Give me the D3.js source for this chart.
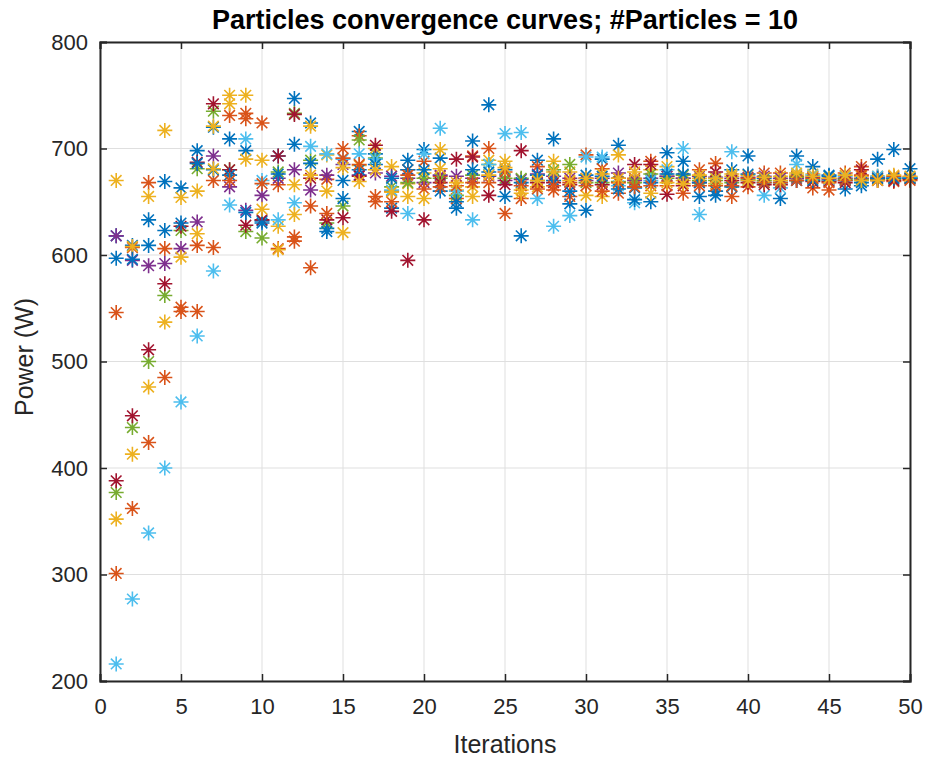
<!DOCTYPE html>
<html><head><meta charset="utf-8">
<script src="https://cdn.jsdelivr.net/npm/d3@7"></script>
<style>body{margin:0;background:#fff}svg{display:block}</style>
</head><body><svg id="c" width="928" height="761"></svg>
<script>
// Iteration values (1..50) for each of the 10 particles
const iterations = d3.range(1, 51);
const p1  = [618,609,633,669,663,698,720,709,698,632,693,747,724,625,670,716,695,644,689,699,691,644,707,741,680,618,689,709,648,642,690,703,663,650,696,688,655,656,680,693,672,653,693,683,675,662,665,690,699,681];
const p2  = [546,607,668,606,551,609,670,731,733,724,666,617,646,671,700,712,655,660,680,688,674,653,693,700,639,653,683,661,655,694,681,658,672,688,674,672,680,686,655,664,677,677,674,663,661,677,683,673,669,673];
const p3  = [670,608,655,717,654,660,721,750,750,689,627,666,721,694,621,684,700,683,667,677,699,661,664,689,688,661,664,688,678,656,655,694,671,680,683,670,672,667,674,675,670,674,675,676,670,672,674,674,673,672];
const p4  = [618,595,590,592,606,631,693,664,642,656,672,680,661,675,685,675,677,674,672,668,675,674,672,674,670,671,676,674,672,670,672,677,670,672,674,672,674,673,672,673,674,672,672,673,671,672,672,672,672,672];
const p5  = [377,438,500,562,623,681,735,680,622,616,678,733,689,630,646,708,691,664,668,672,672,656,675,685,672,672,670,680,685,668,668,669,668,676,672,675,670,670,668,671,670,670,673,671,672,671,671,671,671,672];
const p6  = [216,277,339,400,462,524,585,647,709,670,633,649,702,695,690,695,690,661,639,695,719,660,633,685,714,715,653,627,637,692,692,665,649,670,680,700,638,672,697,670,656,663,685,675,670,674,670,674,673,673];
const p7  = [388,449,511,573,627,687,742,680,628,633,693,732,672,633,635,674,703,641,595,633,668,690,692,656,666,698,668,668,666,672,666,672,685,685,657,665,668,678,670,668,666,666,670,669,669,668,680,670,670,671];
const p8  = [597,596,609,623,630,686,680,675,640,630,676,704,686,622,653,680,685,672,680,680,660,650,680,678,655,668,675,670,660,675,674,662,652,668,676,676,668,660,664,676,668,668,670,670,674,670,668,672,672,672];
const p9  = [301,362,424,485,547,547,607,670,728,667,606,613,588,639,691,685,650,650,675,662,664,665,668,668,678,665,662,665,668,665,660,668,664,665,665,658,665,665,665,672,668,668,670,672,668,670,675,670,674,670];
const p10 = [352,413,476,537,598,620,681,742,690,643,605,638,675,660,682,669,680,659,655,653,681,668,655,675,682,658,670,678,670,672,676,672,678,658,668,667,675,672,676,670,673,670,677,674,672,675,670,670,675,674];
const particles = [p1,p2,p3,p4,p5,p6,p7,p8,p9,p10];
const colors = ["#0072BD","#D95319","#EDB120","#7E2F8E","#77AC30","#4DBEEE","#A2142F","#0072BD","#D95319","#EDB120"];
const xTicks = d3.range(0, 51, 5);
const yTicks = d3.range(200, 801, 100);
const titleText = "Particles convergence curves; #Particles = 10";
const xLabel = "Iterations";
const yLabel = "Power (W)";

const svg = d3.select("#c");
const L = 100, R = 910, T = 42, B = 681;
const x = d3.scaleLinear().domain([0, 50]).range([L, R]);
const y = d3.scaleLinear().domain([200, 800]).range([B, T]);
const font = "'Liberation Sans', Arial, Helvetica, sans-serif";
const axisCol = "#262626";

// grid
const g = svg.append("g");
g.selectAll(".gx").data(xTicks).join("line")
  .attr("x1", d => x(d)).attr("x2", d => x(d)).attr("y1", T).attr("y2", B)
  .attr("stroke", "#dfdfdf").attr("stroke-width", 1);
g.selectAll(".gy").data(yTicks).join("line")
  .attr("x1", L).attr("x2", R).attr("y1", d => y(d)).attr("y2", d => y(d))
  .attr("stroke", "#dfdfdf").attr("stroke-width", 1);

// points
const star = (cx, cy) => {
  const a = 7.5, b = 5.3;
  return `M${cx-a},${cy}L${cx+a},${cy}M${cx},${cy-a}L${cx},${cy+a}M${cx-b},${cy-b}L${cx+b},${cy+b}M${cx-b},${cy+b}L${cx+b},${cy-b}`;
};
const pts = svg.append("g");
particles.forEach((arr, i) => {
  pts.append("g").selectAll("path").data(arr).join("path")
    .attr("d", (v, j) => star(x(iterations[j]), y(v)))
    .attr("stroke", colors[i]).attr("stroke-width", 1.6).attr("fill", "none");
});

// axes
const xa = svg.append("g").attr("transform", `translate(0,${B})`)
  .call(d3.axisBottom(x).tickValues(xTicks).tickSize(-7).tickPadding(17).tickFormat(d3.format("d")));
const xt = svg.append("g").attr("transform", `translate(0,${T})`)
  .call(d3.axisTop(x).tickValues(xTicks).tickSize(-7).tickFormat(""));
const ya = svg.append("g").attr("transform", `translate(${L},0)`)
  .call(d3.axisLeft(y).tickValues(yTicks).tickSize(-7).tickPadding(12).tickFormat(d3.format("d")));
const yr = svg.append("g").attr("transform", `translate(${R},0)`)
  .call(d3.axisRight(y).tickValues(yTicks).tickSize(-7).tickFormat(""));
[xa, xt, ya, yr].forEach(a => {
  a.select(".domain").attr("stroke", axisCol).attr("stroke-width", 2);
  a.selectAll(".tick line").attr("stroke", axisCol).attr("stroke-width", 1.5);
  a.selectAll("text").attr("fill", axisCol).style("font-family", font).style("font-size", "22px");
});

// labels
svg.append("text").attr("x", 505).attr("y", 29).attr("text-anchor", "middle")
  .style("font-family", font).style("font-weight", "bold").style("font-size", "27px").attr("fill", "#000")
  .text(titleText);
svg.append("text").attr("x", 505).attr("y", 753).attr("text-anchor", "middle")
  .style("font-family", font).style("font-size", "25px").attr("fill", axisCol).text(xLabel);
svg.append("text").attr("transform", `translate(33,357) rotate(-90)`).attr("text-anchor", "middle")
  .style("font-family", font).style("font-size", "25px").attr("fill", axisCol).text(yLabel);
</script></body></html>
